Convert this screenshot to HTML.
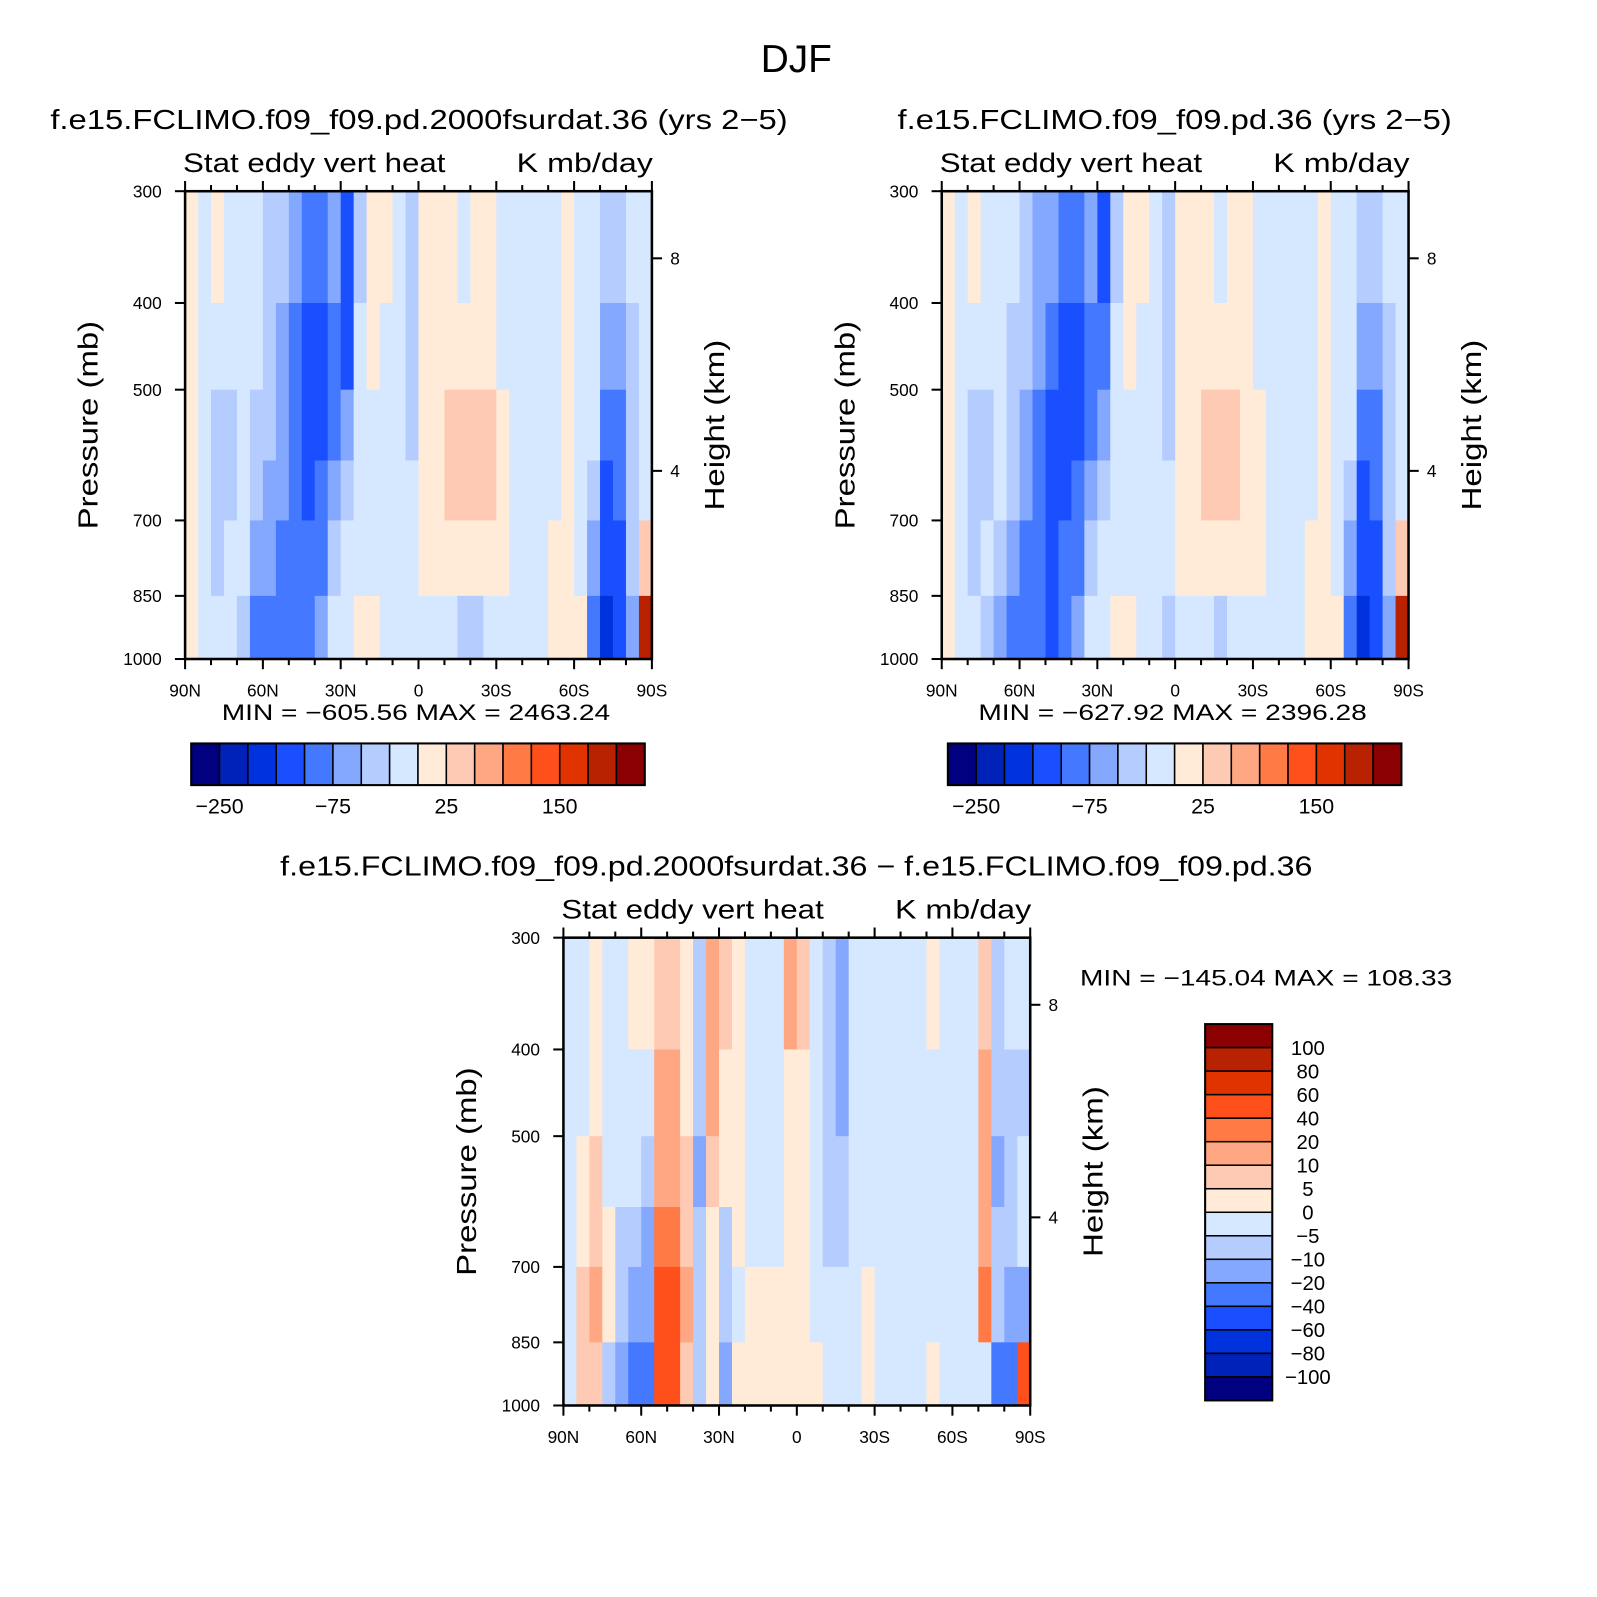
<!DOCTYPE html>
<html><head><meta charset="utf-8">
<style>
html,body{margin:0;padding:0;background:#fff;}
svg{display:block;font-family:"Liberation Sans",sans-serif;}
</style></head>
<body>
<svg id="fig" width="1597" height="1597" viewBox="0 0 1597 1597" xmlns="http://www.w3.org/2000/svg">
<g id="root" transform="scale(1.017)">
<text x="783" y="71" font-size="38" text-anchor="middle" textLength="70" lengthAdjust="spacingAndGlyphs">DJF</text>
</g>
</svg>
<script>
// ---- data ----
const colors = ['#000080','#0022b8','#0033dd','#1a4fff','#4479ff','#85a8ff','#b5ccff','#d5e8ff','#ffebd8','#ffcab3','#ffa782','#ff7a45','#ff501c','#e03300','#b82200','#8b0000'];
const levelsAbs = [-250,-200,-150,-100,-75,-50,-25,0,25,50,75,100,150,200,250];
const levelsDiff = [-100,-80,-60,-40,-20,-10,-5,0,5,10,20,40,60,80,100];
const latCenters = [87.5,82.5,77.5,72.5,67.5,62.5,57.5,52.5,47.5,42.5,37.5,32.5,27.5,22.5,17.5,12.5,7.5,2.5,-2.5,-7.5,-12.5,-17.5,-22.5,-27.5,-32.5,-37.5,-42.5,-47.5,-52.5,-57.5,-62.5,-67.5,-72.5,-77.5,-82.5,-87.5];
const pBands = [[300,400],[400,500],[500,600],[600,700],[700,850],[850,1000]];
const pTicks = [300,400,500,700,850,1000];
const zTicks = [8,4];
const latTicks = [90,60,30,0,-30,-60,-90];
const latTickLabels = ['90N','60N','30N','0','30S','60S','90S'];
const absBarLabels = ['-250','-75','25','150'];
const diffBarLabels = ['100','80','60','40','20','10','5','0','\u22125','\u221210','\u221220','\u221240','\u221260','\u221280','\u2212100'];
const data1 = [
 [10,-10,10,-10,-10,-10,-30,-30,-50,-80,-80,-50,-110,-30,10,10,-10,-30,10,10,10,-10,10,10,-10,-10,-10,-10,-10,10,-10,-10,-30,-30,-10,-10],
 [10,-10,-10,-10,-10,-10,-30,-50,-80,-110,-110,-80,-110,-10,10,-10,-10,-30,10,10,10,10,10,10,-10,-10,-10,-10,-10,10,-10,-10,-50,-50,-30,-10],
 [10,-10,-30,-30,-10,-30,-30,-50,-80,-110,-110,-80,-50,-10,-10,-10,-10,-30,10,10,30,30,30,30,10,-10,-10,-10,-10,10,-10,-10,-80,-80,-30,-10],
 [10,-10,-30,-30,-10,-30,-50,-50,-80,-110,-80,-50,-30,-10,-10,-10,-10,-10,10,10,30,30,30,30,10,-10,-10,-10,-10,10,-10,-30,-110,-80,-30,-10],
 [10,-10,-30,-10,-10,-50,-50,-80,-80,-80,-80,-30,-10,-10,-10,-10,-10,-10,10,10,10,10,10,10,10,-10,-10,-10,10,10,-10,-50,-110,-110,-30,30],
 [10,-10,-10,-10,-30,-80,-80,-80,-80,-80,-50,-10,-10,10,10,-10,-10,-10,-10,-10,-10,-30,-30,-10,-10,-10,-10,-10,10,10,10,-80,-160,-110,-50,230]
];
const data2 = [
 [10,-10,10,-10,-10,-10,-30,-50,-50,-80,-80,-50,-110,-30,10,10,-10,-30,10,10,10,-10,10,10,-10,-10,-10,-10,-10,10,-10,-10,-30,-30,-10,-10],
 [10,-10,-10,-10,-10,-30,-30,-50,-80,-110,-110,-80,-80,-10,10,-10,-10,-30,10,10,10,10,10,10,-10,-10,-10,-10,-10,10,-10,-10,-50,-50,-30,-10],
 [10,-10,-30,-30,-10,-30,-50,-80,-110,-110,-110,-80,-50,-10,-10,-10,-10,-30,10,10,30,30,30,10,10,-10,-10,-10,-10,10,-10,-10,-80,-80,-30,-10],
 [10,-10,-30,-30,-10,-30,-50,-80,-110,-110,-80,-50,-30,-10,-10,-10,-10,-10,10,10,30,30,30,10,10,-10,-10,-10,-10,10,-10,-30,-110,-80,-30,-10],
 [10,-10,-30,-10,-30,-50,-80,-80,-110,-80,-80,-30,-10,-10,-10,-10,-10,-10,10,10,10,10,10,10,10,-10,-10,-10,10,10,-10,-50,-110,-110,-30,30],
 [10,-10,-10,-30,-50,-80,-80,-80,-110,-80,-50,-10,-10,10,10,-10,-10,-30,-10,-10,-10,-30,-10,-10,-10,-10,-10,-10,10,10,10,-80,-160,-110,-50,230]
];
const data3 = [
 [-3,-3,3,-3,-3,3,3,7,7,3,-7,15,7,3,-3,-3,-3,15,7,-3,-7,-15,-3,-3,-3,-3,-3,-3,3,-3,-3,-3,7,-7,-3,-3],
 [-3,-3,3,-3,-3,-3,-3,15,15,3,-7,15,3,3,-3,-3,-3,3,3,-3,-7,-15,-3,-3,-3,-3,-3,-3,-3,-3,-3,-3,15,-7,-7,-7],
 [-3,3,7,-3,-3,-3,-7,15,15,7,-15,7,3,3,-3,-3,-3,3,3,-3,-7,-7,-3,-3,-3,-3,-3,-3,-3,-3,-3,-3,15,-15,-7,-3],
 [-3,3,7,3,-7,-7,-15,30,30,7,-7,3,-7,3,-3,-3,-3,3,3,-3,-7,-7,-3,-3,-3,-3,-3,-3,-3,-3,-3,-3,15,-7,-7,-3],
 [-3,7,15,3,-7,-15,-15,50,50,15,-7,3,-7,-3,3,3,3,3,3,-3,-3,-3,-3,3,-3,-3,-3,-3,-3,-3,-3,-3,30,-7,-15,-15],
 [-3,7,7,-7,-15,-30,-30,50,50,7,-7,3,-15,3,3,3,3,3,3,3,-3,-3,-3,3,-3,-3,-3,-3,3,-3,-3,-3,-3,-30,-30,50]
];

const root = document.getElementById('root');
const NS = 'http://www.w3.org/2000/svg';
function mk(tag, attrs, parent){const e=document.createElementNS(NS,tag);for(const k in attrs)e.setAttribute(k,attrs[k]);(parent||root).appendChild(e);return e;}
function txt(s, attrs, parent){const e=mk('text',attrs,parent);e.textContent=s;return e;}
function colorFor(v, levels){let i=0;while(i<levels.length && v>levels[i])i++;return colors[i];}

function panel(cfg){
  const L=cfg.left, T=cfg.top, W=459, H=460;
  const g=mk('g',{});
  
  
  const x = lat => L + (90-lat)/180*W;
  const y = p => T + Math.log(p/300)/Math.log(1000/300)*H;
  const yz = z => T + 66 + (8-z)*52.25;
  for(let r=0;r<pBands.length;r++){
    for(let c=0;c<latCenters.length;c++){
      const x0=x(latCenters[c]+2.5), x1=x(latCenters[c]-2.5);
      const y0=y(pBands[r][0]), y1=y(pBands[r][1]);
      const rc=mk('rect',{x:x0,y:y0,width:x1-x0+0.6,height:y1-y0+0.6,fill:colorFor(cfg.data[r][c],cfg.levels)},g);
      
      
    }
  }
  const fr=mk('rect',{x:L,y:T,width:W,height:H,fill:'none',stroke:'#000','stroke-width':2.5},g);
  
  
  for(let lat=90;lat>=-90;lat-=10){
    const major = lat%30===0;
    const len = major?10:6;
    mk('line',{x1:x(lat),x2:x(lat),y1:T+H,y2:T+H+len,stroke:'#000','stroke-width':2},g);
    mk('line',{x1:x(lat),x2:x(lat),y1:T,y2:T-len,stroke:'#000','stroke-width':2},g);
  }
  latTicks.forEach((lat,i)=>{
    const t=txt(latTickLabels[i],{x:x(lat),y:T+H+37,'font-size':17,'text-anchor':'middle'},g);
    
    
  });
  pTicks.forEach(p=>{
    mk('line',{x1:L-10,x2:L,y1:y(p),y2:y(p),stroke:'#000','stroke-width':2},g);
    const t=txt(String(p),{x:L-23,y:y(p)+6,'font-size':17,'text-anchor':'end'},g);
    
    
  });
  zTicks.forEach(z=>{
    mk('line',{x1:L+W,x2:L+W+10,y1:yz(z),y2:yz(z),stroke:'#000','stroke-width':2},g);
    const t=txt(String(z),{x:L+W+18,y:yz(z)+6,'font-size':17},g);
    
    
  });
  const yl=txt('Pressure (mb)',{x:0,y:0,'font-size':27,'text-anchor':'middle',textLength:205,lengthAdjust:'spacingAndGlyphs',transform:`translate(${L-86},${T+230}) rotate(-90)`},g);
  
  
  const yr=txt('Height (km)',{x:0,y:0,'font-size':27,'text-anchor':'middle',textLength:168,lengthAdjust:'spacingAndGlyphs',transform:`translate(${L+W+71},${T+230}) rotate(-90)`},g);
  
  
  const s1=txt('Stat eddy vert heat',{x:L-2,y:T-19,'font-size':26,textLength:258,lengthAdjust:'spacingAndGlyphs'},g);
  
  
  const s2=txt('K mb/day',{x:L+W+1-134,y:T-19,'font-size':26,textLength:134,lengthAdjust:'spacingAndGlyphs'},g);
  
  
  const tt=txt(cfg.title,{x:cfg.titleX-cfg.titleW/2,y:T-61,'font-size':27,textLength:cfg.titleW,lengthAdjust:'spacingAndGlyphs'},g);
  
  
  const mm=txt(cfg.minmax,{x:cfg.mmX,y:cfg.mmY,'font-size':22,textLength:cfg.mmW,lengthAdjust:'spacingAndGlyphs'},g);
  
  
}

panel({name:'panel-2000fsurdat',left:182,top:188,data:data1,levels:levelsAbs,title:'f.e15.FCLIMO.f09_f09.pd.2000fsurdat.36 (yrs 2\u22125)',titleX:412,titleW:725,minmax:'MIN = \u2212605.56   MAX = 2463.24',mmX:218,mmW:382,mmY:708});
panel({name:'panel-pd',left:926,top:188,data:data2,levels:levelsAbs,title:'f.e15.FCLIMO.f09_f09.pd.36 (yrs 2\u22125)',titleX:1155,titleW:545,minmax:'MIN = \u2212627.92   MAX = 2396.28',mmX:962,mmW:382,mmY:708});
panel({name:'panel-difference',left:554,top:922,data:data3,levels:levelsDiff,title:'f.e15.FCLIMO.f09_f09.pd.2000fsurdat.36 \u2212 f.e15.FCLIMO.f09_f09.pd.36',titleX:783,titleW:1015,minmax:'MIN = \u2212145.04   MAX = 108.33',mmX:1062,mmW:366,mmY:969});

function hbar(L, name){
  const g=mk('g',{});
  
  
  const W=446, T=731, H=41, bw=W/colors.length;
  colors.forEach((c,i)=>{
    const r=mk('rect',{x:L+i*bw,y:T,width:bw,height:H,fill:c,stroke:'#000','stroke-width':1.5},g);
    
    
  });
  mk('rect',{x:L,y:T,width:W,height:H,fill:'none',stroke:'#000','stroke-width':2},g);
  absBarLabels.forEach((s)=>{
    const idx=levelsAbs.indexOf(Number(s));
    const t=txt(s.replace('-','\u2212'),{x:L+(idx+1)*bw,y:T+H+28,'font-size':21,'text-anchor':'middle'},g);
    
    
  });
}
hbar(188,'colorbar-panel-1');
hbar(932,'colorbar-panel-2');

(function(){
  const g=mk('g',{});
  
  
  const L=1185, T=1007, W=66, H=370, bh=H/colors.length;
  for(let i=0;i<colors.length;i++){
    const r=mk('rect',{x:L,y:T+i*bh,width:W,height:bh,fill:colors[colors.length-1-i],stroke:'#000','stroke-width':1.5},g);
    
    
  }
  mk('rect',{x:L,y:T,width:W,height:H,fill:'none',stroke:'#000','stroke-width':2},g);
  diffBarLabels.forEach((s,i)=>{
    const t=txt(s,{x:L+W+35,y:T+(i+1)*bh+7,'font-size':20,'text-anchor':'middle'},g);
    
    
  });
})();
</script>
</body></html>
